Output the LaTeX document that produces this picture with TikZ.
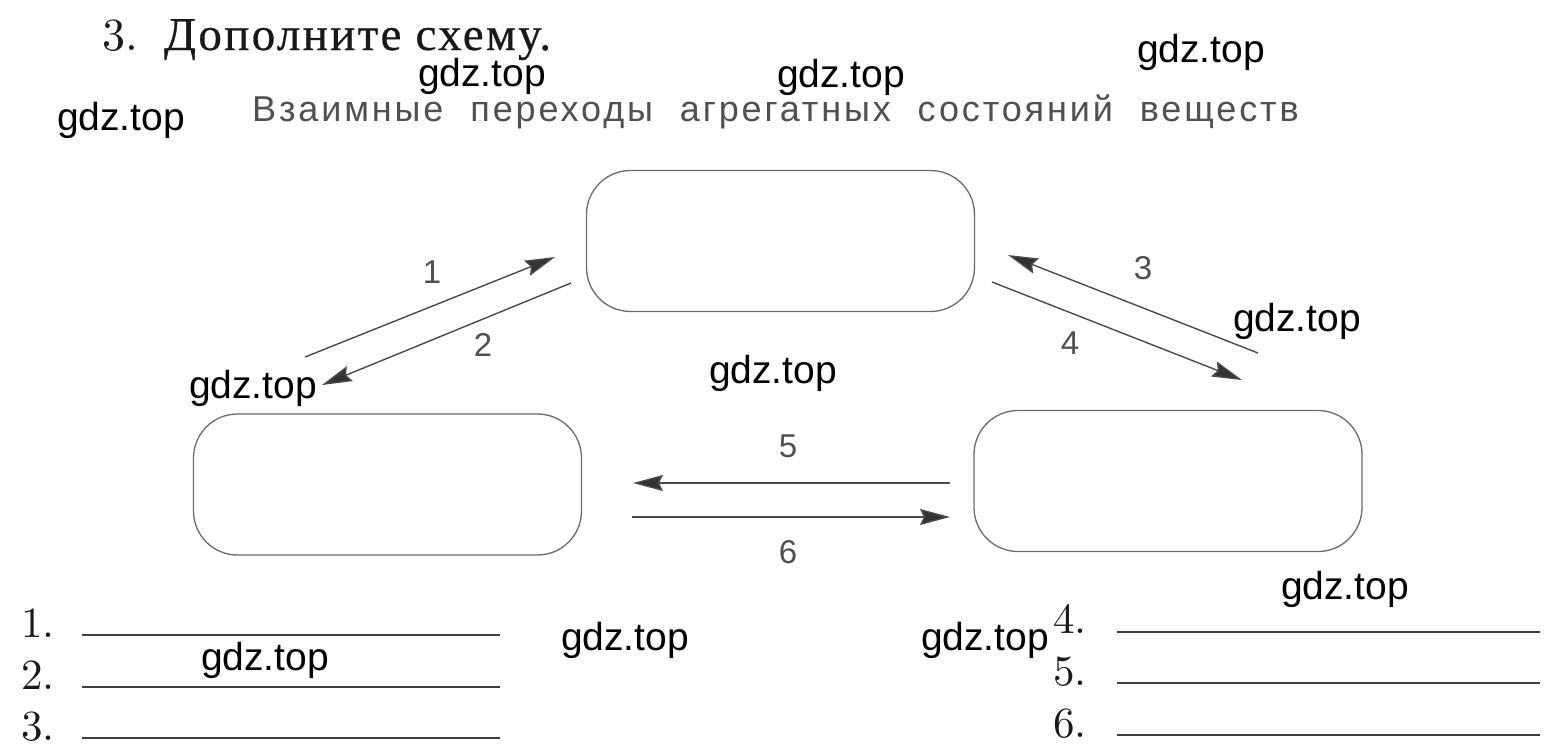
\documentclass[tikz,border=0pt]{standalone}
\usepackage{fontspec}
\newfontfamily\cyrserif[FakeBold=0.6,LetterSpace=5]{Liberation Serif}
\newfontfamily\sansfont{Liberation Sans}
\newfontfamily\digitfont{lmroman10-regular.otf}
\usetikzlibrary{arrows.meta}
\definecolor{inkgray}{HTML}{505050}
\definecolor{linegray}{HTML}{4A4A4A}
\definecolor{boxgray}{HTML}{6A6A6A}

\tikzset{
  statebox/.style={draw=boxgray, line width=1.3pt, rounded corners=44pt,
    minimum width=388pt, minimum height=141pt, inner sep=0pt},
  trans/.style={draw=linegray, line width=1.4pt,
    -{Stealth[length=30pt,width=16pt,inset=4pt,fill=black!80]}},
  num/.style={text=inkgray, font=\sansfont\fontsize{33}{33}\selectfont, inner sep=0pt},
  wm/.style={text=black, font=\sansfont\fontsize{39}{39}\selectfont, inner sep=0pt},
  item/.style={text=black!90, font=\digitfont\fontsize{43}{43}\selectfont, inner sep=0pt, anchor=base west},
  answer/.style={draw=black!75, line width=1.3pt}
}

\begin{document}
\begin{tikzpicture}[x=1pt,y=-1pt]
\useasboundingbox (0,0) rectangle (1549,753);

% heading
\node[item, font=\digitfont\fontsize{46}{46}\selectfont] (task) at (102,50)
  {3.\hspace{26pt}{\cyrserif\fontsize{47}{47}\selectfont Дополните схему.}};
\node[anchor=base west, inner sep=0pt, text=inkgray, font=\sansfont\fontsize{36}{36}\selectfont] (title) at (252,121)
  {\addfontfeature{LetterSpace=8}Взаимные\hspace{14pt} переходы\hspace{14pt} агрегатных\hspace{14pt} состояний\hspace{14pt} веществ};

% states
\node[statebox] (top) at (780.5,241) {};
\node[statebox] (left) at (387.5,484.5) {};
\node[statebox] (right) at (1168,481) {};

% arrow ends
\coordinate (a1) at (305,357);  \coordinate (b1) at (555,257);
\coordinate (a2) at (571,283);  \coordinate (b2) at (322,385);
\coordinate (a3) at (1258,353); \coordinate (b3) at (1008,255);
\coordinate (a4) at (992,282);  \coordinate (b4) at (1242,380);
\coordinate (a5) at (950,483);  \coordinate (b5) at (633,483);
\coordinate (a6) at (632,517);  \coordinate (b6) at (950,517);

\draw[trans] (a1) -- (b1);
\draw[trans] (a2) -- (b2);
\draw[trans] (a3) -- (b3);
\draw[trans] (a4) -- (b4);
\draw[trans] (a5) -- (b5);
\draw[trans] (a6) -- (b6);

\node[num] (n1) at (432,272) {1};
\node[num] (n2) at (483,345) {2};
\node[num] (n3) at (1143,268) {3};
\node[num] (n4) at (1070,343) {4};
\node[num] (n5) at (788,446) {5};
\node[num] (n6) at (788,552) {6};

% answers
\node[item] (i1) at (21,637) {1.};
\node[item] (i2) at (21,689) {2.};
\node[item] (i3) at (21,740) {3.};
\node[item] (i4) at (1053,633) {4.};
\node[item] (i5) at (1053,685) {5.};
\node[item] (i6) at (1053,737) {6.};
\draw[answer] (82,635) -- (500,635);
\draw[answer] (82,687) -- (500,687);
\draw[answer] (82,738) -- (500,738);
\draw[answer] (1117,632) -- (1540,632);
\draw[answer] (1117,683) -- (1540,683);
\draw[answer] (1117,735) -- (1540,735);

% watermarks
\node[wm] (w1) at (1201,52) {gdz.top};
\node[wm] (w2) at (482,76) {gdz.top};
\node[wm] (w3) at (841,77) {gdz.top};
\node[wm] (w4) at (121,120) {gdz.top};
\node[wm] (w5) at (1297,321) {gdz.top};
\node[wm] (w6) at (253,388) {gdz.top};
\node[wm] (w7) at (773,373) {gdz.top};
\node[wm] (w8) at (1345,589) {gdz.top};
\node[wm] (w9) at (625,640) {gdz.top};
\node[wm] (w10) at (985,640) {gdz.top};
\node[wm] (w11) at (265,660) {gdz.top};
\end{tikzpicture}
\end{document}
